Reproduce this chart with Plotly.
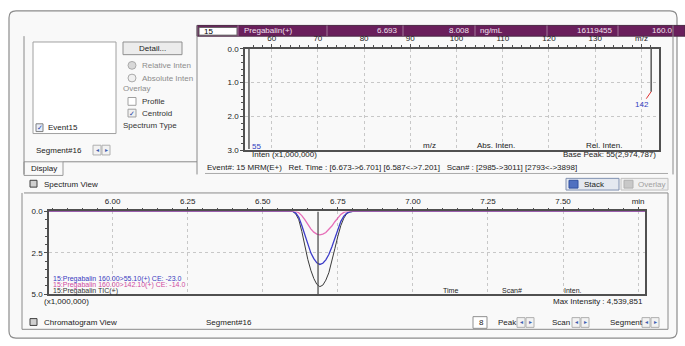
import plotly.graph_objects as go

# ---------------- data ----------------
chrom_time = [5.788, 6.60, 6.61, 6.62, 6.63, 6.64, 6.65, 6.66, 6.67, 6.68, 6.69,
              6.70, 6.71, 6.72, 6.73, 6.74, 6.75, 6.76, 6.77, 6.78, 6.79, 6.80, 7.773]
tic_inten = [0, 0, 0.15, 0.5, 1.2, 2.1, 2.9, 3.55, 4.05, 4.4, 4.54,
             4.45, 4.15, 3.7, 3.05, 2.25, 1.5, 0.85, 0.4, 0.12, 0.03, 0, 0]
mrm55_inten = [0, 0, 0.1, 0.35, 0.85, 1.45, 2.05, 2.5, 2.85, 3.1, 3.2,
               3.13, 2.92, 2.6, 2.15, 1.6, 1.05, 0.6, 0.28, 0.1, 0.03, 0, 0]
mrm142_inten = [0, 0, 0, 0.08, 0.25, 0.5, 0.8, 1.05, 1.25, 1.37, 1.41,
                1.37, 1.27, 1.1, 0.88, 0.62, 0.38, 0.18, 0.06, 0, 0, 0, 0]

spec_mz = [55.1, 142.1]
spec_inten = [2.97, 1.27]
spec_labels = ["55", "142"]

chrom_ticks = [6.00, 6.25, 6.50, 6.75, 7.00, 7.25, 7.50, 7.75]
chrom_ticktext = ["6.00", "6.25", "6.50", "6.75", "7.00", "7.25", "7.50", "min"]
spec_ticks = [60, 70, 80, 90, 100, 110, 120, 130, 140]
spec_ticktext = ["60", "70", "80", "90", "100", "110", "120", "130", "m/z"]

legend_names = ["15:Pregabalin 160.00>55.10(+) CE: -23.0",
                "15:Pregabalin 160.00>142.10(+) CE: -14.0",
                "15:Pregabalin TIC(+)"]
header_cells = ["15", "Pregabalin(+)", "6.693", "8.008", "ng/mL", "16119455", "160.0"]

# ---------------- helpers ----------------
W, H = 685, 346
FONT = "Liberation Sans"


def px(x):
    return x / W


def py(y):
    return 1 - y / H


shapes = []
annotations = []


def rect(x0, y0, x1, y1, line="#9a9a9a", fill=None, width=1):
    shapes.append(dict(type="rect", xref="paper", yref="paper",
                       x0=px(x0), x1=px(x1), y0=py(y1), y1=py(y0),
                       line=dict(color=line, width=width),
                       fillcolor=fill if fill else "rgba(0,0,0,0)", layer="below"))


def line(x0, y0, x1, y1, color="#8a8a8a", width=1):
    shapes.append(dict(type="line", xref="paper", yref="paper",
                       x0=px(x0), x1=px(x1), y0=py(y0), y1=py(y1),
                       line=dict(color=color, width=width)))


def circle(x0, y0, x1, y1, line="#aaaaaa", fill="#eeeeee"):
    shapes.append(dict(type="circle", xref="paper", yref="paper",
                       x0=px(x0), x1=px(x1), y0=py(y1), y1=py(y0),
                       line=dict(color=line, width=1), fillcolor=fill))


def text(t, x, y, anchor="left", size=8, color="#222222"):
    annotations.append(dict(text=t, x=px(x), y=py(y), xref="paper", yref="paper",
                            xanchor=anchor, yanchor="middle", showarrow=False,
                            font=dict(family=FONT, size=size, color=color)))


def spin(x, y):
    rect(x, y - 5, x + 8, y + 5, line="#b0b0b0", fill="#f2f2f2")
    rect(x + 9, y - 5, x + 17, y + 5, line="#b0b0b0", fill="#f2f2f2")
    text("◂", x + 4, y, "center", 6, "#4060b0")
    text("▸", x + 13, y, "center", 6, "#4060b0")


# ---------------- UI frame ----------------
shapes.append(dict(type="path", xref="paper", yref="paper",
                   path=("M {a},{b} L {c},{b} Q {d},{b} {d},{e} L {d},{f} Q {d},{g} {c},{g} "
                         "L {a},{g} Q {h},{g} {h},{f} L {h},{e} Q {h},{b} {a},{b} Z").format(
                       a=px(16), b=py(7), c=px(670), d=px(677), e=py(14), f=py(336), g=py(343), h=px(9)),
                   line=dict(color="#8c8c8c", width=1.2), fillcolor="#f9f9f9", layer="below"))

# spectrum group
line(24, 33, 24, 175)
line(197, 22, 197, 175)
line(673, 22, 673, 175)
line(63, 162, 197, 162)
line(205, 174, 668, 174, "#aaaaaa")
line(24, 194, 668, 194, "#8a8a8a")
# chromatogram group bottom
line(22, 194, 22, 334)
line(668, 194, 668, 334)
line(22, 334, 668, 334, "#8a8a8a")

# left panel widgets
rect(33, 39, 116, 133, line="#a0a0a0", fill="white")
rect(36, 123, 43, 131, line="#808080", fill="#e8eefa")
text("✓", 39.5, 127, "center", 7, "#2040a0")
text("Event15", 46, 127)
rect(123, 39, 182, 52, line="#909090", fill="#ececec")
text("Detail...", 152.5, 45.5, "center")
circle(128, 59, 136, 67, fill="#d8d8d8")
text("Relative Inten", 140, 63, color="#8c8c8c")
circle(128, 72, 136, 80, fill="#f0f0f0")
text("Absolute Inten", 140, 76, color="#8c8c8c")
text("Overlay", 121, 87, color="#8c8c8c")
rect(128, 96, 136, 104, line="#a0a0a0", fill="white")
text("Profile", 140, 100, color="#333333")
rect(128, 108, 136, 116, line="#a0a0a0", fill="#f0f0f0")
text("✓", 132, 112, "center", 7, "#2040a0")
text("Centroid", 140, 112, color="#333333")
text("Spectrum Type", 121, 125, color="#333333")
text("Segment#16", 34, 150)
spin(93, 150)
rect(24, 162, 63, 176, line="#9a9a9a", fill="#f9f9f9")
text("Display", 29, 169)

# header bar
rect(197, 22, 685, 33, line="#4a2a44", fill="#6a1f5c")
rect(199, 24, 237, 32, line="#606060", fill="white")
for xd in [238, 327, 403, 475, 547, 618]:
    line(xd, 22, xd, 33, "#a07898")
text(header_cells[0], 202, 28, "left", 8, "#000000")
text(header_cells[1], 242, 27.5, "left", 8, "#f0e0ee")
text(header_cells[2], 400, 27.5, "right", 8, "#f0e0ee")
text(header_cells[3], 472, 27.5, "right", 8, "#f0e0ee")
text(header_cells[4], 478, 27.5, "left", 8, "#f0e0ee")
text(header_cells[5], 615, 27.5, "right", 8, "#f0e0ee")
text(header_cells[6], 650, 27.5, "left", 8, "#f0e0ee")

# spectrum texts
text("m/z", 421, 145)
text("Abs. Inten.", 496, 145, "center")
text("Rel. Inten.", 604, 145, "center")
text("Inten (x1,000,000)", 250, 155, "left", 8)
text("Base Peak: 55(2,974,787)", 658, 155, "right", 8)
text("Event#: 15 MRM(E+)   Ret. Time : [6.673->6.701] [6.587<->7.201]   Scan# : [2985->3011] [2793<->3898]",
     205, 168, "left", 8)

# spectrum view toolbar
rect(30, 181, 37, 188, line="#404040", fill="#d0d0d0")
text("Spectrum View", 42, 185)
rect(566, 179, 619, 191, line="#8090b0", fill="#e4e8f0")
rect(569, 181, 578, 189, line="#3050a0", fill="#5070c0")
text("Stack", 582, 185)
rect(621, 179, 668, 191, line="#c0c0c0", fill="#f0f0f0")
rect(624, 181, 633, 189, line="#b0b0b0", fill="#c8c8c8")
text("Overlay", 636, 185, color="#a0a0a0")

# chromatogram texts
for i, (name, col) in enumerate(zip(legend_names, ["#3a3ac0", "#d04aa0", "#333333"])):
    text(name, 51, 282 + i * 6.5, "left", 7, col)
text("Time", 450, 294, "center", 7)
text("Scan#", 512, 294, "center", 7)
text("Inten.", 573, 294, "center", 7)
text("(x1,000,000)", 42, 305.5)
text("Max Intensity : 4,539,851", 645, 305.5, "right")

# chromatogram toolbar
rect(30, 323, 37, 330, line="#404040", fill="#d0d0d0")
text("Chromatogram View", 42, 327)
text("Segment#16", 204, 327)
rect(473, 321, 487, 333, line="#909090", fill="white")
text("8", 477, 327)
text("Peak", 496, 327)
spin(517, 327)
text("Scan", 550, 327)
spin(572, 327)
text("Segment", 608, 327)
spin(642, 327)

# ---------------- traces ----------------
fig = go.Figure()

# spectrum sticks
sx, sy = [], []
for m, v in zip(spec_mz, spec_inten):
    sx += [m, m, None]
    sy += [0, v, None]
fig.add_trace(go.Scatter(x=sx, y=sy, mode="lines", line=dict(color="#303030", width=1.2),
                         xaxis="x", yaxis="y", hoverinfo="skip", showlegend=False))

fig.add_trace(go.Scatter(x=chrom_time, y=tic_inten, mode="lines",
                         line=dict(color="#3a3a3a", width=1), xaxis="x2", yaxis="y2",
                         showlegend=False))
fig.add_trace(go.Scatter(x=chrom_time, y=mrm55_inten, mode="lines",
                         line=dict(color="#3c3cc8", width=1.3), xaxis="x2", yaxis="y2",
                         showlegend=False))
fig.add_trace(go.Scatter(x=chrom_time, y=mrm142_inten, mode="lines",
                         line=dict(color="#e24ca8", width=1.3), opacity=0.8,
                         xaxis="x2", yaxis="y2", showlegend=False))

# spectrum peak labels
annotations.append(dict(x=spec_mz[1], y=spec_inten[1], xref="x", yref="y", text=spec_labels[1],
                        showarrow=True, arrowhead=0, arrowcolor="#e03030", arrowwidth=1,
                        ax=-9, ay=13, font=dict(family=FONT, size=8, color="#3040c0")))
annotations.append(dict(x=spec_mz[0], y=2.9, xref="x", yref="y", text=spec_labels[0],
                        showarrow=False, xanchor="left", xshift=1,
                        font=dict(family=FONT, size=8, color="#3040c0")))

# cursor line in chromatogram
shapes.append(dict(type="line", xref="x2", yref="y2", x0=6.684, x1=6.684, y0=0, y1=5,
                   line=dict(color="#505050", width=1.3)))

axis_common = dict(showline=True, mirror=True, linecolor="#505050", linewidth=1.5,
                   ticks="outside", ticklen=3, tickcolor="#505050", showgrid=True,
                   gridcolor="#c8c8c8", griddash="dot", zeroline=False,
                   tickfont=dict(family=FONT, size=8, color="#222222"))

fig.update_layout(
    width=W, height=H, autosize=False, margin=dict(l=0, r=0, t=0, b=0),
    paper_bgcolor="white", plot_bgcolor="white", showlegend=False,
    xaxis=dict(domain=[px(245), px(659)], range=[54.24, 143.8], side="top", anchor="y",
               tickvals=spec_ticks, ticktext=spec_ticktext,
               minor=dict(dtick=2, ticks="outside", ticklen=2, tickcolor="#505050", showgrid=False),
               **axis_common),
    yaxis=dict(domain=[py(150), py(46)], range=[3.0, 0.0], anchor="x",
               tickvals=[0, 1, 2, 3], ticktext=["0.0", "1.0", "2.0", "3.0"],
               minor=dict(dtick=0.2, ticks="outside", ticklen=2, tickcolor="#505050", showgrid=False),
               **axis_common),
    xaxis2=dict(domain=[px(49), px(645)], range=[5.788, 7.773], side="top", anchor="y2",
                tickvals=chrom_ticks, ticktext=chrom_ticktext,
                minor=dict(dtick=0.05, ticks="outside", ticklen=2, tickcolor="#505050", showgrid=False),
                **axis_common),
    yaxis2=dict(domain=[py(298), py(213)], range=[5.0, 0.0], anchor="x2",
                tickvals=[0, 2.5, 5], ticktext=["0.0", "2.5", "5.0"],
                minor=dict(dtick=0.5, ticks="outside", ticklen=2, tickcolor="#505050", showgrid=False),
                **axis_common),
    shapes=shapes, annotations=annotations,
)

fig.write_html("out.html", config={"displayModeBar": False},
               post_script="document.body.style.margin='0';document.body.style.overflow='hidden';")
